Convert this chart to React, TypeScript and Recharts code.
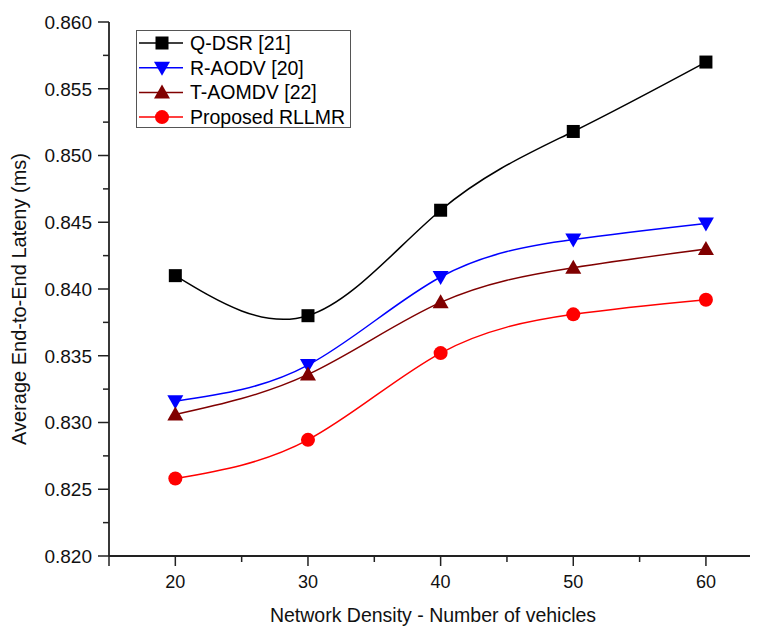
import React from 'react';
import { LineChart, Line, XAxis, YAxis, Legend } from 'recharts';

const densities = [20, 30, 40, 50, 60];
const qdsr = [0.841, 0.838, 0.8459, 0.8518, 0.857];
const raodv = [0.8316, 0.8343, 0.8409, 0.8437, 0.8449];
const taomdv = [0.8306, 0.8336, 0.839, 0.8416, 0.843];
const rllmr = [0.8258, 0.8287, 0.8352, 0.8381, 0.8392];

const seriesNames = ['Q-DSR [21]', 'R-AODV [20]', 'T-AOMDV [22]', 'Proposed RLLMR'];
const seriesColors = ['#000000', '#0000ff', '#800000', '#ff0000'];

const yTicks = [0.82, 0.8225, 0.825, 0.8275, 0.83, 0.8325, 0.835, 0.8375, 0.84, 0.8425, 0.845, 0.8475, 0.85, 0.8525, 0.855, 0.8575, 0.86];
const yMajor = [0.82, 0.825, 0.83, 0.835, 0.84, 0.845, 0.85, 0.855, 0.86];
const xTicks = [15, 20, 25, 30, 35, 40, 45, 50, 55, 60];
const xMajor = [20, 30, 40, 50, 60];

const data = densities.map((d, i) => ({
  x: d,
  qdsr: qdsr[i],
  raodv: raodv[i],
  taomdv: taomdv[i],
  rllmr: rllmr[i],
}));

const FONT = '"Liberation Sans", Arial, sans-serif';
const AXIS = '#222';

const isMajor = (arr: number[], v: number) => arr.some((m) => Math.abs(m - v) < 1e-6);

const YTick = (p: any) => {
  const { x, y, payload } = p;
  const major = isMajor(yMajor, payload.value);
  return (
    <g>
      <line x1={x - (major ? 11 : 6)} x2={x} y1={y} y2={y} stroke={AXIS} strokeWidth={1.5} />
      {major && (
        <text x={x - 17} y={y + 6.8} textAnchor="end" fontFamily={FONT} fontSize={19} fill="#111">
          {payload.value.toFixed(3)}
        </text>
      )}
    </g>
  );
};

const XTick = (p: any) => {
  const { x, y, payload } = p;
  const major = isMajor(xMajor, payload.value) || payload.value === 15;
  return (
    <g>
      <line x1={x} x2={x} y1={y} y2={y + (major ? 10 : 6)} stroke={AXIS} strokeWidth={1.5} />
      {isMajor(xMajor, payload.value) && (
        <text x={x} y={y + 32} textAnchor="middle" fontFamily={FONT} fontSize={18} fill="#111">
          {payload.value}
        </text>
      )}
    </g>
  );
};

const TopTick = (p: any) => {
  const { x, y, payload } = p;
  const major = isMajor(xMajor, payload.value);
  return <line x1={x} x2={x} y1={y} y2={y + (major ? 9 : 6)} stroke={AXIS} strokeWidth={1.5} />;
};

const Square = (color: string) => (p: any) => (
  <rect key={`s${p.index}`} x={p.cx - 6.5} y={p.cy - 6.5} width={13} height={13} fill={color} />
);
const DownTri = (color: string) => (p: any) => (
  <path key={`d${p.index}`} d={`M${p.cx - 8},${p.cy - 6} L${p.cx + 8},${p.cy - 6} L${p.cx},${p.cy + 8} Z`} fill={color} />
);
const UpTri = (color: string) => (p: any) => (
  <path key={`u${p.index}`} d={`M${p.cx - 8},${p.cy + 6} L${p.cx + 8},${p.cy + 6} L${p.cx},${p.cy - 8} Z`} fill={color} />
);
const Circ = (color: string) => (p: any) => (
  <circle key={`c${p.index}`} cx={p.cx} cy={p.cy} r={7} fill={color} />
);

const markerFor = (i: number, cx: number, cy: number) => {
  const c = seriesColors[i];
  if (i === 0) return <rect x={cx - 6.5} y={cy - 6.5} width={13} height={13} fill={c} />;
  if (i === 1) return <path d={`M${cx - 8},${cy - 6} L${cx + 8},${cy - 6} L${cx},${cy + 8} Z`} fill={c} />;
  if (i === 2) return <path d={`M${cx - 8},${cy + 6} L${cx + 8},${cy + 6} L${cx},${cy - 8} Z`} fill={c} />;
  return <circle cx={cx} cy={cy} r={7} fill={c} />;
};

const LegendBox = () => (
  <svg width={216} height={99} style={{ display: 'block' }}>
    <rect x={0.5} y={0.5} width={214} height={97} fill="#fff" stroke="#555" strokeWidth={1} />
    {seriesNames.map((n, i) => {
      const cy = 13 + i * 24.7;
      return (
        <g key={n}>
          <line x1={3} x2={47} y1={cy} y2={cy} stroke={seriesColors[i]} strokeWidth={1.5} />
          {markerFor(i, 26, cy)}
          <text x={54} y={cy + 7} fontFamily={FONT} fontSize={19.5} fill="#000">
            {n}
          </text>
        </g>
      );
    })}
  </svg>
);

export default function App() {
  return (
    <LineChart width={750} height={620} data={data} margin={{ top: 14, right: 1, bottom: 0, left: 0 }}>
      <XAxis
        dataKey="x"
        type="number"
        domain={[15, 63.85]}
        allowDataOverflow
        ticks={xTicks}
        interval={0}
        height={72}
        tickSize={0}
        tickMargin={0}
        tickLine={false}
        tick={<XTick />}
        axisLine={{ stroke: AXIS, strokeWidth: 1.8 }}
        label={{
          content: (p: any) => {
            const vb = p.viewBox;
            return (
              <text x={vb.x + vb.width / 2} y={vb.y + 66} textAnchor="middle" fontFamily={FONT} fontSize={19.5} fill="#111">
                Network Density - Number of vehicles
              </text>
            );
          },
        }}
      />
      <XAxis
        xAxisId="top"
        dataKey="x"
        type="number"
        orientation="top"
        domain={[15, 63.85]}
        allowDataOverflow
        ticks={xTicks}
        interval={0}
        height={0}
        tickSize={0}
        tickMargin={0}
        tickLine={false}
        tick={<TopTick />}
        axisLine={{ stroke: AXIS, strokeWidth: 1.8 }}
      />
      <YAxis
        type="number"
        domain={[0.82, 0.86]}
        ticks={yTicks}
        interval={0}
        width={101}
        tickSize={0}
        tickMargin={0}
        tickLine={false}
        tick={<YTick />}
        axisLine={{ stroke: AXIS, strokeWidth: 1.8 }}
        label={{
          content: () => {
            const cy = 291;
            return (
              <text x={11} y={cy} transform={`rotate(-90, 11, ${cy})`} textAnchor="middle" dominantBaseline="central" fontFamily={FONT} fontSize={20} fill="#111">
                Average End-to-End Lateny (ms)
              </text>
            );
          },
        }}
      />
      <Legend
        layout="horizontal"
        verticalAlign="middle"
        align="center"
        content={<LegendBox />}
        wrapperStyle={{ position: 'absolute', left: 128, top: 22, width: 216, height: 99 }}
      />
      <Line type="natural" dataKey="qdsr" stroke={seriesColors[0]} strokeWidth={1.5} dot={Square(seriesColors[0])} isAnimationActive={false} />
      <Line type="natural" dataKey="raodv" stroke={seriesColors[1]} strokeWidth={1.5} dot={DownTri(seriesColors[1])} isAnimationActive={false} />
      <Line type="natural" dataKey="taomdv" stroke={seriesColors[2]} strokeWidth={1.5} dot={UpTri(seriesColors[2])} isAnimationActive={false} />
      <Line type="natural" dataKey="rllmr" stroke={seriesColors[3]} strokeWidth={1.5} dot={Circ(seriesColors[3])} isAnimationActive={false} />
    </LineChart>
  );
}
